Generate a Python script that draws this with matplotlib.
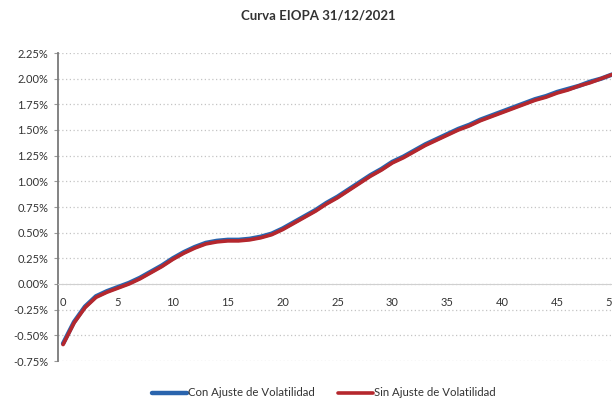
import matplotlib
matplotlib.use("Agg")
import matplotlib.pyplot as plt
from matplotlib.ticker import FuncFormatter, MultipleLocator

plt.rcParams['font.family'] = ['Lato', 'DejaVu Sans']

title = "Curva EIOPA 31/12/2021"
series_names = ["Con Ajuste de Volatilidad", "Sin Ajuste de Volatilidad"]
maturities = list(range(0, 51))
con_ajuste = [-0.58, -0.37, -0.22, -0.12, -0.07, -0.03, 0.01, 0.06, 0.12, 0.18,
              0.25, 0.31, 0.36, 0.40, 0.42, 0.43, 0.43, 0.44, 0.46, 0.49,
              0.54, 0.60, 0.66, 0.72, 0.79, 0.85, 0.92, 0.99, 1.06, 1.12,
              1.19, 1.24, 1.30, 1.36, 1.41, 1.46, 1.51, 1.55, 1.60, 1.64,
              1.68, 1.72, 1.76, 1.80, 1.83, 1.87, 1.90, 1.93, 1.97, 2.00, 2.04]
sin_ajuste = [-0.59, -0.38, -0.23, -0.13, -0.08, -0.04, 0.00, 0.05, 0.11, 0.17,
              0.24, 0.30, 0.35, 0.39, 0.41, 0.42, 0.42, 0.43, 0.45, 0.48,
              0.53, 0.59, 0.65, 0.71, 0.78, 0.84, 0.91, 0.98, 1.05, 1.11,
              1.18, 1.23, 1.29, 1.35, 1.40, 1.45, 1.50, 1.54, 1.59, 1.63,
              1.67, 1.71, 1.75, 1.79, 1.82, 1.86, 1.89, 1.93, 1.96, 2.00, 2.04]
colors = ["#2a64ad", "#b5272d"]

fig = plt.figure(figsize=(6.12, 4.03), dpi=100)
ax = fig.add_axes([58/612, 1 - 361/403, (612 - 58)/612, (361 - 53)/403])

ax.plot(maturities, con_ajuste, color=colors[0], lw=3.2, solid_capstyle='round',
        label=series_names[0], zorder=3)
ax.plot(maturities, sin_ajuste, color=colors[1], lw=2.6, solid_capstyle='round',
        label=series_names[1], zorder=4)

ax.set_xlim(-0.46, 50.0)
ax.set_ylim(-0.75, 2.25)
ax.yaxis.set_major_locator(MultipleLocator(0.25))
ax.yaxis.set_major_formatter(FuncFormatter(lambda v, p: f"{v:.2f}%"))
ax.xaxis.set_major_locator(MultipleLocator(5))

ax.grid(axis='y', color='#c4c4c4', linestyle=(0, (1, 2)), linewidth=0.9)
ax.set_axisbelow(True)

for s in ['top', 'right']:
    ax.spines[s].set_visible(False)
ax.spines['left'].set_color('#7a7a7a')
ax.spines['left'].set_linewidth(1.3)
ax.spines['bottom'].set_position(('data', 0))
ax.spines['bottom'].set_color('#d0d0d0')
ax.spines['bottom'].set_linewidth(0.8)

ax.tick_params(axis='y', length=3, color='#9a9a9a', labelsize=8, labelcolor='#333333', pad=4)
ax.tick_params(axis='x', length=0, labelsize=8, labelcolor='#333333', pad=9)

fig.text(318/612, 1 - 16/403, title, ha='center', va='center', fontsize=9.5,
         fontweight='bold', color='#333333')

leg = fig.legend(loc='center', bbox_to_anchor=(324/612, 1 - 393/403), ncol=2,
                 frameon=False, fontsize=8.2, handlelength=3.1, handletextpad=0.1,
                 columnspacing=2.0)
for t in leg.get_texts():
    t.set_color('#333333')

fig.savefig("out.png", dpi=100)
